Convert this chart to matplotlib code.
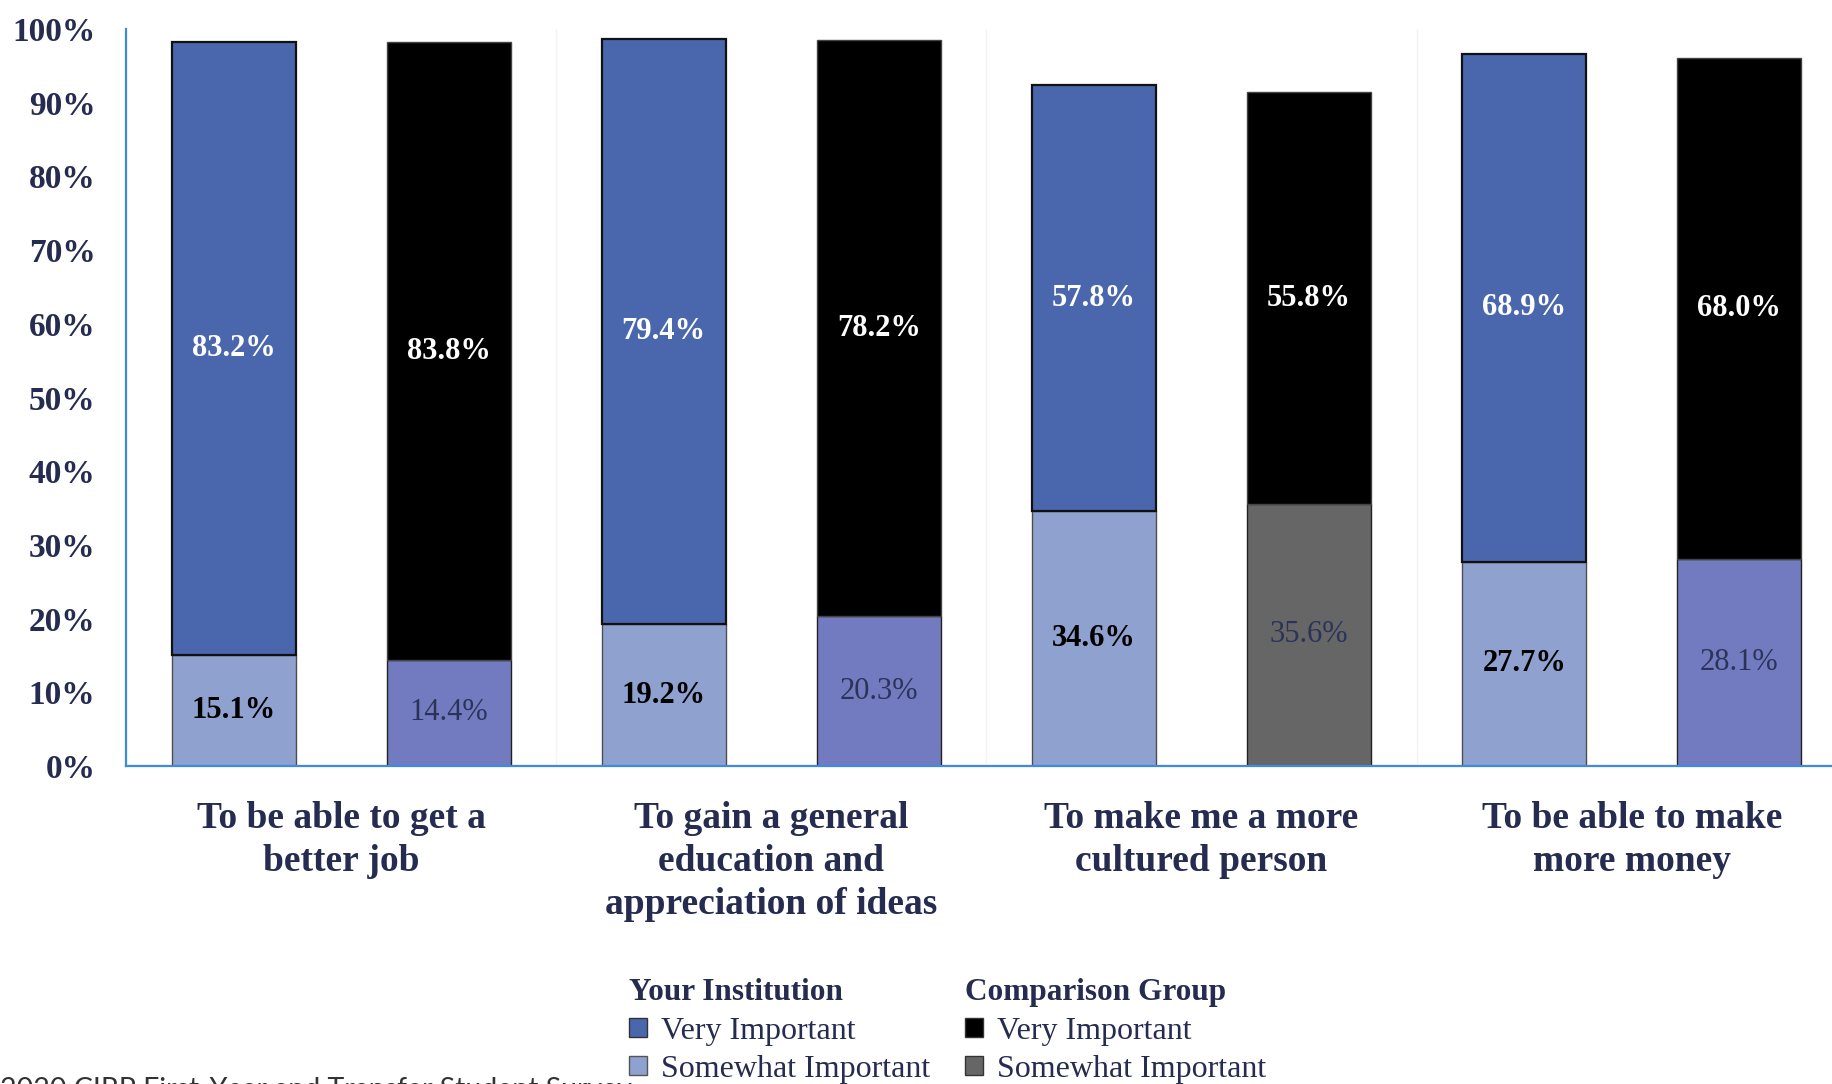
import numpy as np
import matplotlib
matplotlib.use("Agg")
import matplotlib.pyplot as plt
from matplotlib.patches import Patch

# data
categories = ["To be able to get a\nbetter job",
              "To gain a general\neducation and\nappreciation of ideas",
              "To make me a more\ncultured person",
              "To be able to make\nmore money"]
inst_somewhat = [15.1, 19.2, 34.6, 27.7]
inst_very = [83.2, 79.4, 57.8, 68.9]
comp_somewhat = [14.4, 20.3, 35.6, 28.1]
comp_very = [83.8, 78.2, 55.8, 68.0]
yticks = [0, 10, 20, 30, 40, 50, 60, 70, 80, 90, 100]

NAVY = "#252C4F"
INST_VERY = "#4A66AC"
INST_SOME = "#8FA2CF"
COMP_VERY = "#000000"
COMP_SOME = ["#737BC0", "#737BC0", "#666666", "#737BC0"]
SERIF = "Liberation Serif"

W, H = 1833, 1084
fig = plt.figure(figsize=(W / 100, H / 100), dpi=100)
ax = fig.add_axes([126 / W, 318 / H, (1847 - 126) / W, (766 - 29) / H])

x = np.arange(len(categories))
bw = 0.288
off = 0.25

# your institution
ax.bar(x - off, inst_somewhat, bw, color=INST_SOME, edgecolor="#4d4d4d", lw=1)
ax.bar(x - off, inst_very, bw, bottom=inst_somewhat, color=INST_VERY,
       edgecolor="#111111", lw=1.6)
# comparison group
ax.bar(x + off, comp_somewhat, bw, color=COMP_SOME, edgecolor="#222222", lw=1)
ax.bar(x + off, comp_very, bw, bottom=comp_somewhat, color=COMP_VERY,
       edgecolor="#444444", lw=1)

lab = dict(ha="center", va="center", fontsize=22, family=SERIF)
for i in range(len(categories)):
    ax.text(x[i] - off, inst_somewhat[i] / 2, f"{inst_somewhat[i]:.1f}%",
            weight="bold", color="black", **lab)
    ax.text(x[i] - off, inst_somewhat[i] + inst_very[i] / 2, f"{inst_very[i]:.1f}%",
            weight="bold", color="white", **lab)
    ax.text(x[i] + off, comp_somewhat[i] / 2, f"{comp_somewhat[i]:.1f}%",
            color="#2B3458", **lab)
    ax.text(x[i] + off, comp_somewhat[i] + comp_very[i] / 2, f"{comp_very[i]:.1f}%",
            weight="bold", color="white", **lab)

# faint separators between groups
for b in x[:-1] + 0.5:
    ax.axvline(b, color="#F3F3F3", lw=1, zorder=0)

ax.set_xlim(-0.5, len(categories) - 0.5)
ax.set_ylim(0, 100)
ax.set_yticks(yticks)
ax.set_yticklabels([f"{v}%" for v in yticks], family=SERIF, weight="bold",
                   fontsize=24, color=NAVY)
ax.set_xticks(x)
ax.set_xticklabels(categories, family=SERIF, weight="bold", fontsize=27,
                   color=NAVY, linespacing=1.3, va="top")
ax.tick_params(axis="y", length=0, pad=22)
ax.tick_params(axis="x", length=0, pad=25)
for s in ["top", "right"]:
    ax.spines[s].set_visible(False)
for s in ["left", "bottom"]:
    ax.spines[s].set_color("#3D8BE0")
    ax.spines[s].set_linewidth(1.6)

# legends
leg_kw = dict(loc="upper left", frameon=False, borderpad=0, borderaxespad=0,
              handlelength=0.55, handleheight=0.55, handletextpad=0.45,
              labelspacing=0.3, alignment="left",
              prop={"family": SERIF, "size": 23},
              title_fontproperties={"family": SERIF, "size": 22.5, "weight": "bold"})
h1 = [Patch(facecolor=INST_VERY, edgecolor="#333333"),
      Patch(facecolor=INST_SOME, edgecolor="#555555")]
h2 = [Patch(facecolor=COMP_VERY, edgecolor="#333333"),
      Patch(facecolor=COMP_SOME[2], edgecolor="#333333")]
lg1 = fig.legend(h1, ["Very Important", "Somewhat Important"], title="Your Institution",
                 bbox_to_anchor=(629 / W, 1 - 978 / H), **leg_kw)
lg2 = fig.legend(h2, ["Very Important", "Somewhat Important"], title="Comparison Group",
                 bbox_to_anchor=(965 / W, 1 - 978 / H), **leg_kw)
for lg in (lg1, lg2):
    lg.get_title().set_color(NAVY)
    for t in lg.get_texts():
        t.set_color(NAVY)

fig.text(0.0, 1 - 1077 / H, "2020 CIRP First-Year and Transfer Student Survey",
         va="top", ha="left", fontsize=20.5, family="Lato", color="#333333")

fig.savefig("out.png", dpi=100)
